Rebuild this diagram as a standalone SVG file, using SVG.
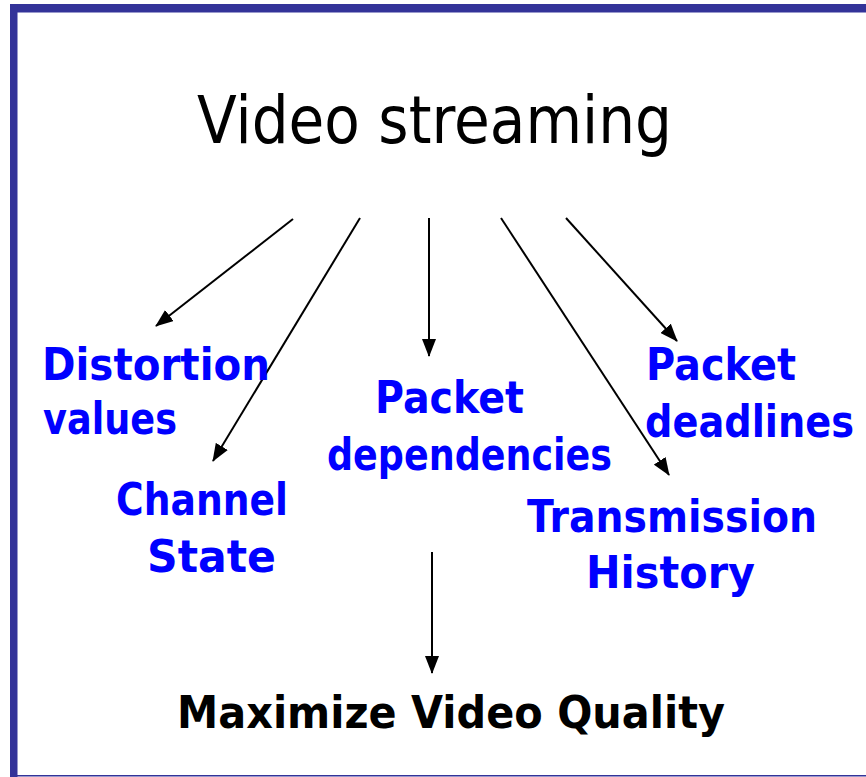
<svg xmlns="http://www.w3.org/2000/svg" width="866" height="777" viewBox="0 0 866 777">
  <style>
    .title { font-family: "DejaVu Sans", "Liberation Sans", sans-serif; font-size: 66px; fill: #000; }
    .lbl { font-family: "DejaVu Sans", "Liberation Sans", sans-serif; font-weight: bold; font-size: 45px; fill: #0000ff; }
    .goal { font-family: "DejaVu Sans", "Liberation Sans", sans-serif; font-weight: bold; font-size: 45px; fill: #000; }
    .conn { stroke: #000; stroke-width: 2; fill: none; marker-end: url(#arrow); }
  </style>
  <defs>
    <marker id="arrow" viewBox="0 0 18 14" refX="17" refY="7" markerWidth="18" markerHeight="14" markerUnits="userSpaceOnUse" orient="auto">
      <path d="M0,0 L18,7 L0,14 Z" fill="#000"/>
    </marker>
  </defs>

  <!-- frame -->
  <rect x="0" y="0" width="866" height="777" fill="#fff"/>
  <rect x="10" y="4" width="856" height="8.5" fill="#333399"/>
  <rect x="10" y="4" width="7.5" height="773" fill="#333399"/>
  <rect x="10" y="775" width="856" height="1.5" fill="#333399"/>

  <g id="video-streaming">
    <text class="title" x="197" y="143" textLength="475" lengthAdjust="spacingAndGlyphs">Video streaming</text>
  </g>

  <g id="connectors">
    <line class="conn" x1="293" y1="219" x2="156" y2="326"/>
    <line class="conn" x1="360" y1="218" x2="213" y2="461"/>
    <line class="conn" x1="429" y1="218" x2="429" y2="356"/>
    <line class="conn" x1="501" y1="218" x2="669" y2="475"/>
    <line class="conn" x1="566" y1="218" x2="677" y2="341"/>
    <line class="conn" x1="432" y1="552" x2="432" y2="673"/>
  </g>

  <g id="distortion-values">
    <text class="lbl" x="42" y="380" textLength="228" lengthAdjust="spacingAndGlyphs">Distortion</text>
    <text class="lbl" x="43" y="434" textLength="134" lengthAdjust="spacingAndGlyphs">values</text>
  </g>

  <g id="channel-state">
    <text class="lbl" x="116" y="515" textLength="172" lengthAdjust="spacingAndGlyphs">Channel</text>
    <text class="lbl" x="147" y="572" textLength="129" lengthAdjust="spacingAndGlyphs">State</text>
  </g>

  <g id="packet-dependencies">
    <text class="lbl" x="375" y="413" textLength="149" lengthAdjust="spacingAndGlyphs">Packet</text>
    <text class="lbl" x="327" y="470" textLength="285" lengthAdjust="spacingAndGlyphs">dependencies</text>
  </g>

  <g id="packet-deadlines">
    <text class="lbl" x="646" y="380" textLength="150" lengthAdjust="spacingAndGlyphs">Packet</text>
    <text class="lbl" x="645" y="437" textLength="209" lengthAdjust="spacingAndGlyphs">deadlines</text>
  </g>

  <g id="transmission-history">
    <text class="lbl" x="527" y="532" textLength="290" lengthAdjust="spacingAndGlyphs">Transmission</text>
    <text class="lbl" x="586" y="588" textLength="169" lengthAdjust="spacingAndGlyphs">History</text>
  </g>

  <g id="maximize-video-quality">
    <text class="goal" x="177" y="728" textLength="548" lengthAdjust="spacingAndGlyphs">Maximize Video Quality</text>
  </g>
</svg>
